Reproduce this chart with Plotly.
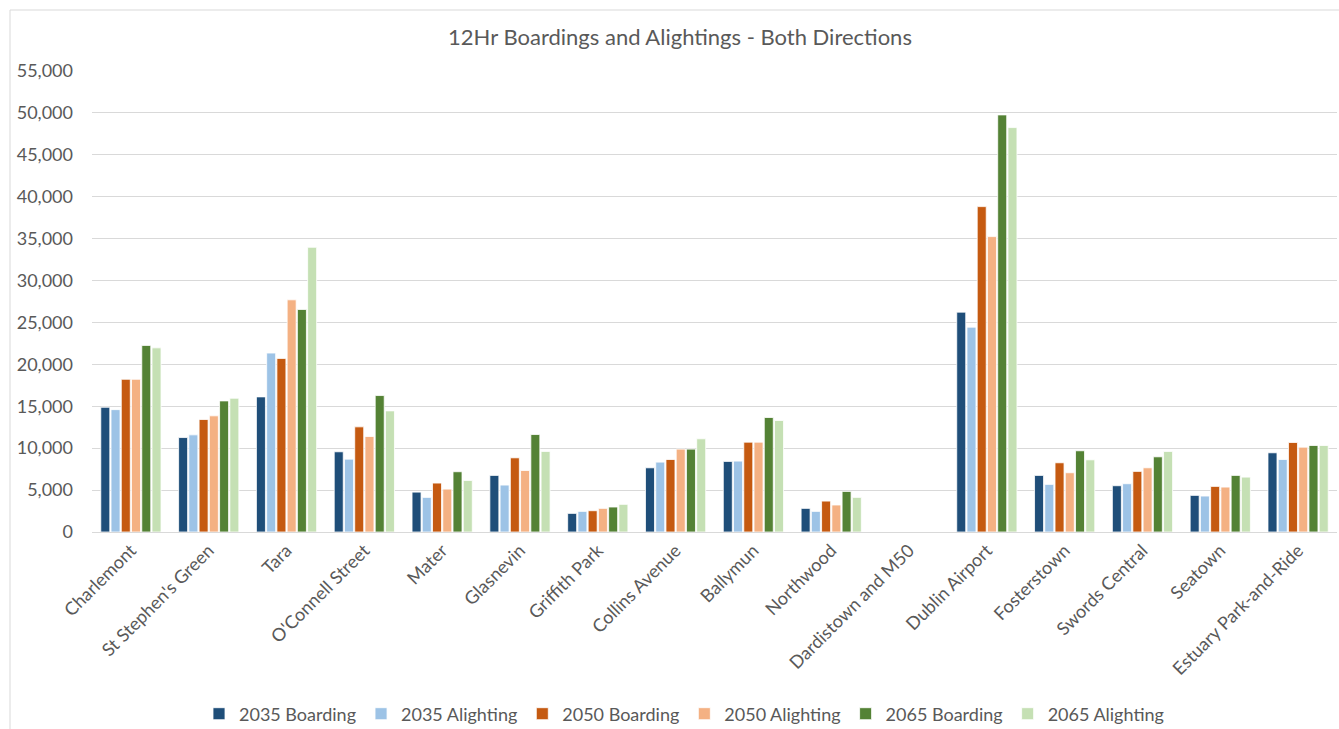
import plotly.graph_objects as go

stops = [
    "Charlemont", "St Stephen's Green", "Tara", "O'Connell Street", "Mater",
    "Glasnevin", "Griffith Park", "Collins Avenue", "Ballymun", "Northwood",
    "Dardistown and M50", "Dublin Airport", "Fosterstown", "Swords Central",
    "Seatown", "Estuary Park-and-Ride",
]

boarding_2035 = [14880, 11270, 16120, 9570, 4760, 6750, 2220, 7660, 8420, 2820,
                 None, 26230, 6750, 5520, 4370, 9450]
alighting_2035 = [14600, 11590, 21350, 8690, 4130, 5600, 2460, 8340, 8460, 2460,
                  None, 24440, 5680, 5760, 4290, 8650]
boarding_2050 = [18220, 13420, 20710, 12545, 5840, 8850, 2540, 8650, 10720, 3690,
                 None, 38820, 8260, 7230, 5440, 10680]
alighting_2050 = [18220, 13860, 27700, 11390, 5120, 7340, 2820, 9890, 10720, 3220,
                  None, 35240, 7070, 7660, 5360, 10120]
boarding_2065 = [22260, 15640, 26550, 16280, 7190, 11630, 2980, 9890, 13660, 4840,
                 None, 49760, 9690, 8970, 6750, 10320]
alighting_2065 = [21970, 15960, 33970, 14450, 6150, 9610, 3300, 11120, 13300, 4130,
                  None, 48250, 8610, 9610, 6550, 10320]

y_ticks = list(range(0, 55001, 5000))

series = [
    ("2035 Boarding", boarding_2035, "#1f4e79"),
    ("2035 Alighting", alighting_2035, "#9dc3e6"),
    ("2050 Boarding", boarding_2050, "#c55a11"),
    ("2050 Alighting", alighting_2050, "#f4b183"),
    ("2065 Boarding", boarding_2065, "#548235"),
    ("2065 Alighting", alighting_2065, "#c5e0b4"),
]

FONT = "Lato"
GREY = "#595959"

fig = go.Figure()
for name, values, colour in series:
    fig.add_trace(go.Bar(
        name=name, x=stops, y=values,
        marker=dict(color=colour, line=dict(color="white", width=0.8)),
    ))

# plot area geometry in pixels, used for the outer frame
W, H = 1339, 729
ML, MR, MT, MB = 92, 2, 71, 197
pw, ph = W - ML - MR, H - MT - MB

def px_x(p):
    return (p - ML) / pw

def px_y(p):
    return (H - MB - p) / ph

fig.update_layout(
    width=W, height=H,
    margin=dict(l=ML, r=MR, t=MT, b=MB, autoexpand=False),
    paper_bgcolor="white", plot_bgcolor="white",
    font=dict(family=FONT, color=GREY, size=18),
    title=dict(
        text="12Hr Boardings and Alightings - Both Directions",
        x=680 / W, xanchor="center", xref="container",
        y=1 - 37 / H, yanchor="middle", yref="container",
        font=dict(family=FONT, size=22, color=GREY),
    ),
    barmode="group", bargap=0.21, bargroupgap=0.12,
    showlegend=True,
    legend=dict(
        orientation="h", x=684 / W, xanchor="center", xref="container",
        y=1 - 714 / H, yanchor="middle", yref="container",
        font=dict(family=FONT, size=18, color=GREY),
        itemwidth=30, traceorder="normal",
    ),
    xaxis=dict(
        tickangle=-45, showgrid=False, showline=True, automargin=False,
        linecolor="#d9d9d9", linewidth=1, ticks="",
        tickfont=dict(family=FONT, size=18, color=GREY),
    ),
    yaxis=dict(
        range=[0, 55000], tickvals=y_ticks, tickformat=",", automargin=False,
        showgrid=True, gridcolor="#d9d9d9", gridwidth=1,
        zeroline=False, showline=False, ticks="",
        ticklabelstandoff=18,
        tickfont=dict(family=FONT, size=18, color=GREY),
    ),
    shapes=[dict(
        type="rect", xref="paper", yref="paper",
        x0=px_x(10), x1=px_x(W + 6), y0=px_y(H + 6), y1=px_y(10),
        line=dict(color="#d9d9d9", width=1), fillcolor="rgba(0,0,0,0)",
        layer="below",
    )],
)

fig.write_html("out.html")
